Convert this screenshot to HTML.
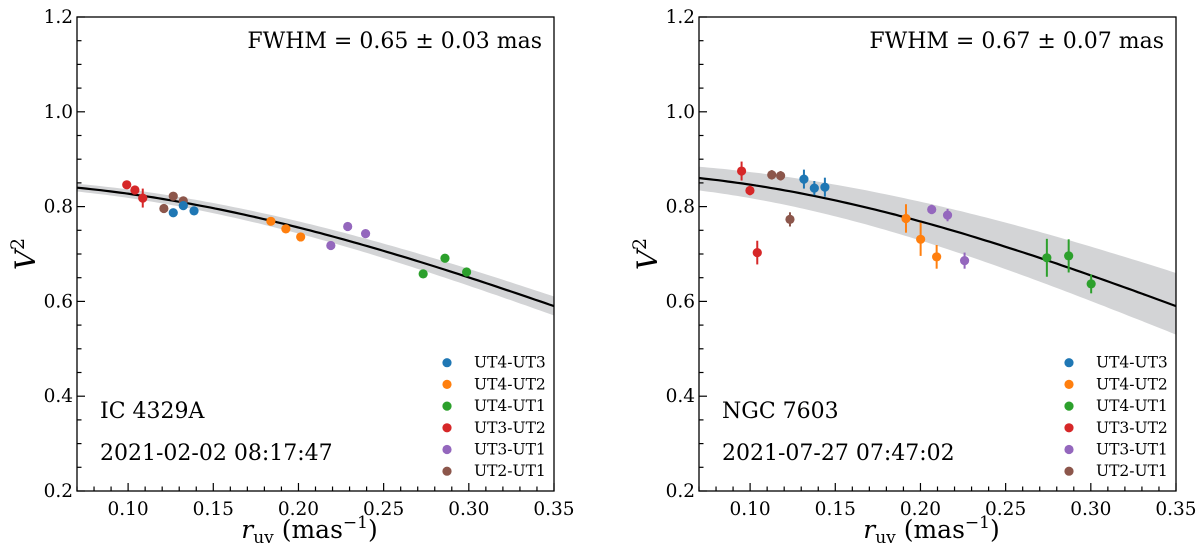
<!DOCTYPE html>
<html><head><meta charset="utf-8"><style>
body{margin:0;background:#fff}
svg{display:block}
text{font-family:"DejaVu Serif","Liberation Serif",serif;fill:#000}
</style></head><body>
<svg id="fig" width="1200" height="550" viewBox="0 0 1200 550"></svg>
<script>
const colors=['#1f77b4','#ff7f0e','#2ca02c','#d62728','#9467bd','#8c564b'];
const baselines=['UT4-UT3','UT4-UT2','UT4-UT1','UT3-UT2','UT3-UT1','UT2-UT1'];
const xTicks=[0.10,0.15,0.20,0.25,0.30,0.35];
const yTicks=[0.2,0.4,0.6,0.8,1.0,1.2];
// Left panel (IC 4329A)
const leftR=[0.0992,0.104,0.1086,0.121,0.1265,0.1324,0.1265,0.1324,0.1387,0.1838,0.1926,0.2013,0.219,0.2289,0.2394,0.2732,0.286,0.2987];
const leftV=[0.846,0.835,0.818,0.796,0.822,0.812,0.787,0.802,0.791,0.769,0.753,0.736,0.718,0.758,0.743,0.658,0.691,0.662];
const leftE=[0.005,0.005,0.02,0.004,0.004,0.005,0.004,0.005,0.004,0.004,0.004,0.004,0.004,0.004,0.004,0.004,0.004,0.004];
const leftB=[3,3,3,5,5,5,0,0,0,1,1,1,4,4,4,2,2,2];
const leftFit=[0.8524,3.003],leftUp=[0.86,2.80],leftLo=[0.845,3.21];
// Right panel (NGC 7603)
const rightR=[0.095,0.0999,0.1042,0.1127,0.1179,0.1234,0.1316,0.1377,0.1439,0.1915,0.2001,0.2095,0.2066,0.2159,0.2259,0.2742,0.287,0.3002];
const rightV=[0.875,0.834,0.703,0.867,0.865,0.773,0.858,0.839,0.841,0.775,0.731,0.694,0.794,0.782,0.686,0.692,0.696,0.637];
const rightE=[0.02,0.01,0.025,0.01,0.01,0.015,0.02,0.015,0.02,0.03,0.035,0.025,0.01,0.013,0.017,0.04,0.035,0.02];
const rightB=[3,3,3,5,5,5,0,0,0,1,1,1,4,4,4,2,2,2];
const rightFit=[0.8739,3.206],rightUp=[0.895,2.487],rightLo=[0.85,3.856];

const NS='http://www.w3.org/2000/svg';
const fig=document.getElementById('fig');
function el(t,a,p){const e=document.createElementNS(NS,t);for(const k in a)e.setAttribute(k,a[k]);(p||fig).appendChild(e);return e;}

function panel(ox,name,R,V,E,B,fit,up,lo,fw,obj,date){
  const g=el('g',{});
  
  
  const L=ox,Rt=ox+477,T=17,Bo=491;
  const X=v=>L+(v-0.07)*(Rt-L)/0.28;
  const Y=v=>Bo-(v-0.2)*(Bo-T)/1.0;
  const cur=(p,r)=>p[0]*Math.exp(-p[1]*r*r);
  let d='';
  for(let i=0;i<=100;i++){const r=0.07+0.28*i/100;d+=(i?'L':'M')+X(r).toFixed(1)+','+Y(cur(up,r)).toFixed(1);}
  for(let i=100;i>=0;i--){const r=0.07+0.28*i/100;d+='L'+X(r).toFixed(1)+','+Y(cur(lo,r)).toFixed(1);}
  const band=el('path',{d:d+'Z',fill:'#d3d4d6',stroke:'none'},g);
  
  
  let d2='';
  for(let i=0;i<=100;i++){const r=0.07+0.28*i/100;d2+=(i?'L':'M')+X(r).toFixed(1)+','+Y(cur(fit,r)).toFixed(1);}
  const line=el('path',{d:d2,fill:'none',stroke:'#000','stroke-width':2.2},g);
  
  
  for(let i=0;i<R.length;i++){
    const c=colors[B[i]];
    const eb=el('line',{x1:X(R[i]),x2:X(R[i]),y1:Y(V[i]-E[i]),y2:Y(V[i]+E[i]),stroke:c,'stroke-width':2},g);
    
    
    const pt=el('circle',{cx:X(R[i]),cy:Y(V[i]),r:4.6,fill:c},g);
    
    
  }
  el('rect',{x:L,y:T,width:Rt-L,height:Bo-T,fill:'none',stroke:'#000','stroke-width':1.3},g);
  for(let v=7;v<=35;v++){const x=X(v/100);const maj=v%5==0;el('line',{x1:x,x2:x,y1:Bo,y2:Bo-(maj?8:4.5),stroke:'#000','stroke-width':1.2},g);}
  xTicks.forEach(v=>{const t=el('text',{x:X(v),y:Bo+24,'text-anchor':'middle','font-size':18.5},g);t.textContent=v.toFixed(2);
    });
  for(let v=4;v<=24;v++){const y=Y(v/20);const maj=v%4==0;el('line',{x1:L,x2:L+(maj?8:4.5),y1:y,y2:y,stroke:'#000','stroke-width':1.2},g);}
  yTicks.forEach(v=>{const t=el('text',{x:L-4,y:Y(v)+6,'text-anchor':'end','font-size':18.5},g);t.textContent=v.toFixed(1);
    });
  const yl=el('text',{x:0,y:0,'font-size':28,'font-style':'italic','text-anchor':'middle',transform:`translate(${L-42},${(T+Bo)/2}) rotate(-90)`},g);
  yl.innerHTML='V<tspan dy="-11" font-size="19" font-style="normal">2</tspan>';
  
  const xl=el('text',{x:(L+Rt)/2-6,y:538,'font-size':25,'text-anchor':'middle'},g);
  xl.innerHTML='<tspan font-style="italic">r</tspan><tspan font-size="17" dy="5">uv</tspan><tspan dy="-5"> (mas</tspan><tspan font-size="17" dy="-10">−1</tspan><tspan dy="10">)</tspan>';
  
  const ft=el('text',{x:Rt-12,y:48,'font-size':22,'text-anchor':'end'},g);ft.textContent=fw;
  
  const ob=el('text',{x:L+23,y:418,'font-size':22},g);ob.textContent=obj;
  
  const dt=el('text',{x:L+23,y:460,'font-size':22},g);dt.textContent=date;
  
  baselines.forEach((b,i)=>{
    const y=362.7+i*21.7;
    const lg=el('g',{},g);
    
    
    el('circle',{cx:L+370,cy:y,r:4.6,fill:colors[i]},lg);
    const t=el('text',{x:L+397,y:y+5,'font-size':15.5},lg);t.textContent=b;
  });
}
panel(77,'left-panel-ic4329a',leftR,leftV,leftE,leftB,leftFit,leftUp,leftLo,'FWHM = 0.65 ± 0.03 mas','IC 4329A','2021-02-02 08:17:47');
panel(699,'right-panel-ngc7603',rightR,rightV,rightE,rightB,rightFit,rightUp,rightLo,'FWHM = 0.67 ± 0.07 mas','NGC 7603','2021-07-27 07:47:02');
</script>
</body></html>
